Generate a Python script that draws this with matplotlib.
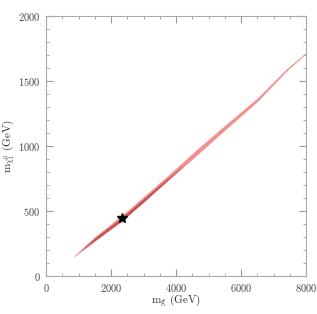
import matplotlib

matplotlib.use("Agg")
import matplotlib.pyplot as plt
from matplotlib.ticker import MultipleLocator

plt.rcParams["font.family"] = "cmr10"
plt.rcParams["mathtext.fontset"] = "cm"
plt.rcParams["axes.formatter.use_mathtext"] = True

# band centre line (gluino mass, neutralino mass) and half-widths
band_x = [850, 1500, 2350, 3000, 3700, 4700, 5500, 6500, 7400, 8000]
band_y = [150, 285, 448, 588, 742, 965, 1140, 1355, 1585, 1715]
band_hw = [3, 18, 22, 22, 20, 22, 18, 14, 8, 4]

# darker core of the band
core_x = [1100, 1500, 2350, 3000, 3700, 4200]
core_y = [200, 282, 442, 582, 736, 845]
core_hw = [2, 9, 13, 11, 7, 2]

star_x, star_y = 2330, 446

fig = plt.figure(figsize=(3.17, 3.14), dpi=100)
ax = fig.add_axes([46 / 317, 38 / 314, 260 / 317, 260 / 314])

ax.fill_between(band_x, [y - w for y, w in zip(band_y, band_hw)],
                [y + w for y, w in zip(band_y, band_hw)],
                color="#f29090", lw=0)
ax.fill_between(core_x, [y - w for y, w in zip(core_y, core_hw)],
                [y + w for y, w in zip(core_y, core_hw)],
                color="#c25050", lw=0)
ax.plot(star_x, star_y, marker="*", color="black", ms=7.5, ls="none")

ax.set_xlim(0, 8000)
ax.set_ylim(0, 2000)
ax.xaxis.set_major_locator(MultipleLocator(2000))
ax.xaxis.set_minor_locator(MultipleLocator(500))
ax.yaxis.set_major_locator(MultipleLocator(500))
ax.yaxis.set_minor_locator(MultipleLocator(100))
ax.tick_params(which="both", direction="in", top=True, right=True,
               color="#999999", labelsize=7.5, labelcolor="#444444")
ax.tick_params(which="major", length=5, pad=4)
ax.tick_params(which="minor", length=2.5)
for s in ax.spines.values():
    s.set_color("#aaaaaa")
    s.set_linewidth(0.8)

ax.set_xlabel(r"m$_{\tilde{\rm g}}$ (GeV)", fontsize=8, color="#333333",
              va="center")
ax.set_ylabel(r"m$_{\tilde{\chi}^0_1}$ (GeV)", fontsize=8, color="#333333",
              va="center")
ax.xaxis.set_label_coords(0.5, -0.095)
ax.yaxis.set_label_coords(-0.142, 0.5)

fig.savefig("out.png", dpi=100)
